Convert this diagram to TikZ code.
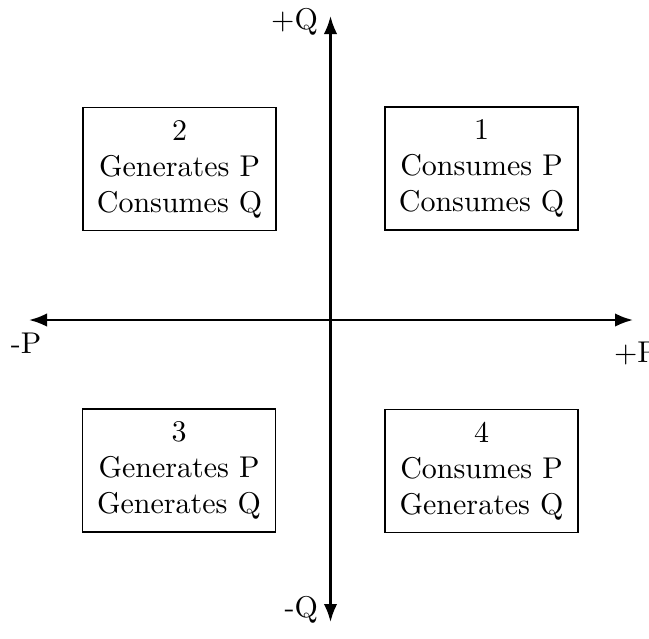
\documentclass[tikz,border=0pt]{standalone}
\usetikzlibrary{arrows.meta}
\begin{document}
\begin{tikzpicture}[x=0.3333pt,y=-0.3333pt,
  axis/.style={line width=0.8pt,-{Latex[length=6pt,width=4.5pt]}},
  quad/.style={draw,line width=0.4pt,align=center,minimum width=64.3pt,minimum height=41pt,inner sep=3pt},
  lbl/.style={inner sep=0pt}]
\useasboundingbox (0,0) rectangle (649,638);
\coordinate (O) at (330.5,320);
\coordinate (L) at (29,320);
\coordinate (R) at (633,320);
\coordinate (T) at (330.5,16);
\coordinate (B) at (330.5,622);
\draw[axis] (O) -- (L);
\draw[axis] (O) -- (R);
\draw[axis] (O) -- (T);
\draw[axis] (O) -- (B);
\node[lbl,anchor=east] (tq) at ([xshift=-4pt,yshift=-2pt]T) {+Q};
\node[lbl,anchor=east] (bq) at ([xshift=-4pt,yshift=4pt]B) {-Q};
\node[lbl,anchor=north] (lp) at ([xshift=-1pt,yshift=-4pt]L) {-P};
\node[lbl,anchor=north] (rp) at ([xshift=1pt,yshift=-7pt]R) {+P};
\node[quad] (q1) at (481.5,168.5) {1\\Consumes P\\Consumes Q};
\node[quad] (q2) at (179.5,169) {2\\Generates P\\Consumes Q};
\node[quad] (q3) at (179,470.5) {3\\Generates P\\Generates Q};
\node[quad] (q4) at (481.5,471) {4\\Consumes P\\Generates Q};
\end{tikzpicture}
\end{document}
